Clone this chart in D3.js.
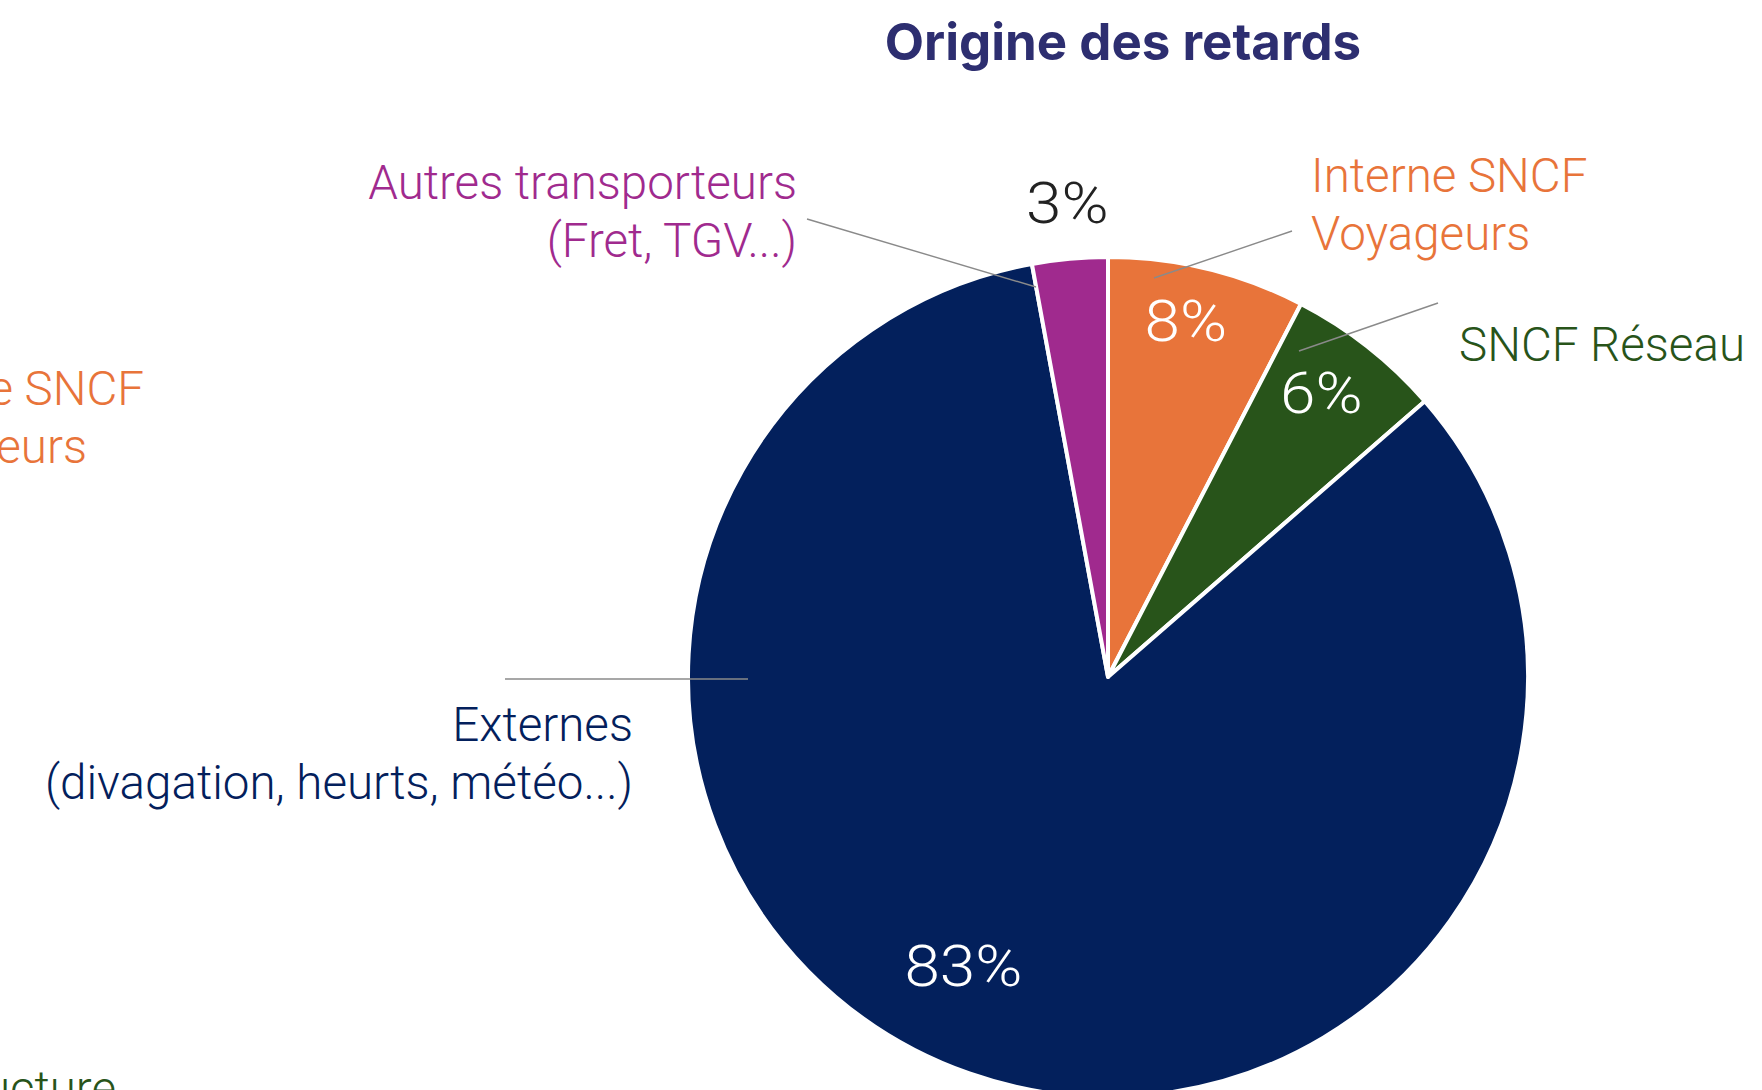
<!DOCTYPE html>
<html>
<head>
<meta charset="utf-8">
<script src="https://cdn.jsdelivr.net/npm/d3@7"></script>
<style>
  html, body { margin: 0; padding: 0; background: #fff; overflow: hidden; }
  svg { display: block; }
</style>
</head>
<body>
<svg id="chart" width="1762" height="1090"></svg>
<script>
// ---- data ----
const categories = ["Interne SNCF Voyageurs", "SNCF Réseau", "Externes", "Autres transporteurs"];
const values = [7.6, 6.0, 83.5, 2.9];
const valueLabels = ["8%", "6%", "83%", "3%"];
const labelLines = [
  ["Interne SNCF", "Voyageurs"],
  ["SNCF Réseau"],
  ["Externes", "(divagation, heurts, météo...)"],
  ["Autres transporteurs", "(Fret, TGV...)"]
];
const colors = ["#e8743a", "#28541a", "#03205c", "#a02a8e"];
const title = "Origine des retards";

// ---- layout ----
const W = 1762, H = 1090;
const cx = 1108, cy = 677, R = 420;
const FONT = "Roboto, 'Noto Sans', sans-serif";
const LABEL_SIZE = 47.5;
const svg = d3.select("#chart");

svg.append("text")
  .attr("x", 1123).attr("y", 60)
  .attr("text-anchor", "middle")
  .attr("font-family", "Inter, 'Open Sans', sans-serif")
  .attr("font-weight", 700)
  .attr("font-size", 51)
  .attr("fill", "#2d2e70")
  .text(title);

const pie = d3.pie().sort(null).value(d => d)
  .startAngle(0).endAngle(2 * Math.PI);
const arcs = pie(values);
const arc = d3.arc().innerRadius(0).outerRadius(R);

const g = svg.append("g").attr("transform", `translate(${cx},${cy})`);
g.selectAll("path.slice").data(arcs).enter().append("path")
  .attr("class", "slice")
  .attr("d", arc)
  .attr("fill", (d, i) => colors[i])
  .attr("stroke", "#fff")
  .attr("stroke-width", 4)
  .attr("stroke-linejoin", "round");

// value labels placed on a label arc (radius factor, angle shift in degrees)
const valuePlace = [
  { rf: 0.865, da: -1.3, fill: "#fff" },
  { rf: 0.845, da: -1.2, fill: "#fff" },
  { rf: 0.77, da: 7.3, fill: "#fff" },
  { rf: 1.13, da: 0.3, fill: "#222" }
];
const polar = (a, r) => [r * Math.sin(a), -r * Math.cos(a)];
g.selectAll("text.val").data(arcs).enter().append("text")
  .attr("class", "val")
  .attr("transform", (d, i) => {
    const p = valuePlace[i];
    const a = (d.startAngle + d.endAngle) / 2 + p.da * Math.PI / 180;
    const [x, y] = polar(a, p.rf * R);
    return `translate(${x},${y}) scale(1.12,1)`;
  })
  .attr("text-anchor", "middle")
  .attr("dominant-baseline", "central")
  .attr("font-family", FONT)
  .attr("font-weight", 300)
  .attr("font-size", 57)
  .attr("fill", (d, i) => valuePlace[i].fill)
  .text((d, i) => valueLabels[i]);

// leader lines (from label to slice)
const leaders = [
  { from: [1292, 231], to: [1154, 278] },
  { from: [1438, 303], to: [1299, 351] },
  { from: [505, 679], to: [748, 679] },
  { from: [807, 219], to: [1036, 287] }
];
svg.selectAll("line.leader").data(leaders).enter().append("line")
  .attr("class", "leader")
  .attr("x1", d => d.from[0]).attr("y1", d => d.from[1])
  .attr("x2", d => d.to[0]).attr("y2", d => d.to[1])
  .attr("stroke", "#8a8a8a").attr("stroke-width", 1.4);

// category labels
const labelPlace = [
  { x: 1311, y: 192, anchor: "start" },
  { x: 1459, y: 361, anchor: "start" },
  { x: 633, y: 741, anchor: "end" },
  { x: 797, y: 199, anchor: "end" }
];
const lineH = 58;
categories.forEach((c, i) => {
  const p = labelPlace[i];
  const t = svg.append("text")
    .attr("text-anchor", p.anchor)
    .attr("font-family", FONT)
    .attr("font-weight", 300)
    .attr("font-size", LABEL_SIZE)
    .attr("fill", colors[i]);
  labelLines[i].forEach((ln, k) => {
    t.append("tspan").attr("x", p.x).attr("y", p.y + k * lineH).text(ln);
  });
});

// ghost labels partly outside the frame (left side)
const ghost = svg.append("text")
  .attr("text-anchor", "start")
  .attr("font-family", FONT)
  .attr("font-weight", 300)
  .attr("font-size", LABEL_SIZE)
  .attr("fill", colors[0]);
const gl = labelLines[0].map((ln, k) =>
  ghost.append("tspan").attr("y", 405 + k * lineH).text(ln));
const firstW = gl[0].node().getComputedTextLength();
const gx = 144 - firstW;
gl.forEach(t => t.attr("x", gx));

svg.append("text")
  .attr("x", 116).attr("y", 1105)
  .attr("text-anchor", "end")
  .attr("font-family", FONT)
  .attr("font-weight", 300)
  .attr("font-size", LABEL_SIZE)
  .attr("fill", colors[1])
  .text("Infrastructure");
</script>
</body>
</html>
